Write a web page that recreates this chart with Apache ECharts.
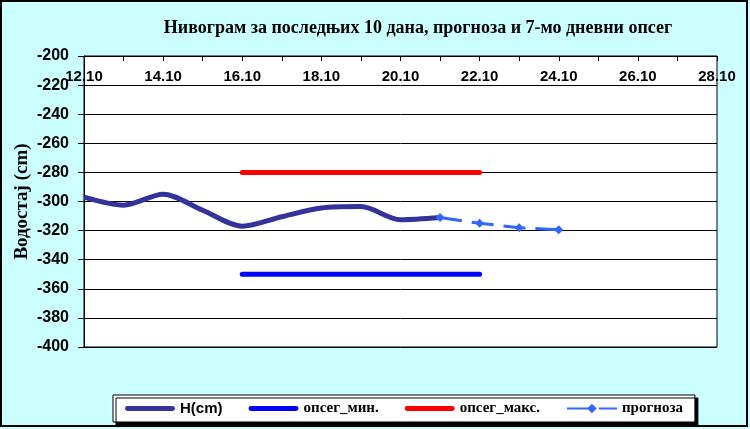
<!DOCTYPE html>
<html>
<head>
<meta charset="utf-8">
<script src="https://cdn.jsdelivr.net/npm/echarts@6/dist/echarts.min.js"></script>
<style>
html,body{margin:0;padding:0;background:#ccffff;}
#chart{width:750px;height:429px;}
</style>
</head>
<body>
<div id="chart"></div>
<script>
// Data
const titleText = 'Нивограм за последњих 10 дана, прогноза и 7-мо дневни опсег';
const yAxisName = 'Водостај (cm)';
const hDays = [12, 13, 14, 15, 16, 17, 18, 19, 20, 21];
const hValues = [-297, -302.5, -295, -306, -317, -310.5, -304.5, -303.5, -312.5, -311];
const forecastDays = [21, 22, 23, 24];
const forecastValues = [-311, -315, -318, -319.5];
const rangeDays = [16, 22];
const rangeMin = [-350, -350];
const rangeMax = [-280, -280];
const xMin = 12, xMax = 28, xStep = 2;
const yMin = -400, yMax = -200, yStep = 20;
const seriesNames = ['H(cm)', 'опсег_мин.', 'опсег_макс.', 'прогноза'];

const zip = (xs, ys) => xs.map((x, i) => [x, ys[i]]);
const serifText = {fontFamily: '"Liberation Serif", serif', fontWeight: 'bold', fontSize: 15, color: '#000'};
const barIcon = 'path://M2,0 H48 A2.5,2.5 0 0 1 48,5 H2 A2.5,2.5 0 0 1 2,0 Z';

const chart = echarts.init(document.getElementById('chart'), null, {renderer: 'canvas'});
chart.setOption({
  backgroundColor: '#ccffff',
  animation: false,
  graphic: [
    {type: 'rect', shape: {x: 1, y: 1, width: 746, height: 425}, style: {fill: 'none', stroke: '#000', lineWidth: 2}, z: 100},
    {type: 'text', x: 418, y: 19, style: {text: titleText, font: 'bold 18px "Liberation Serif", serif', fill: '#000', textAlign: 'center'}}
  ],
  grid: {left: 84, right: 33, top: 56, bottom: 82, show: true, backgroundColor: '#fff', borderColor: '#000', borderWidth: 1},
  xAxis: {
    type: 'value', position: 'top', min: xMin, max: xMax, interval: xStep,
    axisLine: {show: true, lineStyle: {color: '#000'}},
    axisTick: {show: true, inside: true, length: 5, lineStyle: {color: '#000'}},
    minorTick: {show: true, splitNumber: 2, length: 5, lineStyle: {color: '#000'}},
    splitLine: {show: false},
    axisLabel: {inside: true, margin: 13, color: '#000', fontFamily: '"Liberation Sans", Arial', fontWeight: 'bold', fontSize: 15,
      formatter: v => v + '.10'}
  },
  yAxis: {
    type: 'value', min: yMin, max: yMax, interval: yStep,
    name: yAxisName, nameLocation: 'middle', nameGap: 52, nameMoveOverlap: false,
    nameTextStyle: {color: '#000', fontFamily: '"Liberation Serif", serif', fontWeight: 'bold', fontSize: 19},
    axisLine: {show: true, lineStyle: {color: '#000'}},
    axisTick: {show: true, length: 6, lineStyle: {color: '#000'}},
    splitLine: {show: true, lineStyle: {color: '#000', width: 1}},
    axisLabel: {margin: 15, color: '#000', fontFamily: '"Liberation Sans", Arial', fontWeight: 'bold', fontSize: 16}
  },
  legend: {
    left: 113, top: 395, orient: 'horizontal',
    backgroundColor: '#fff', borderColor: '#000', borderWidth: 1,
    shadowColor: '#000', shadowOffsetX: 3, shadowOffsetY: 3, shadowBlur: 0,
    padding: [6, 12, 6, 12], itemWidth: 50, itemHeight: 12, itemGap: 26, symbolKeepAspect: true,
    data: [
      {name: seriesNames[0], icon: barIcon, textStyle: {fontFamily: '"Liberation Sans", Arial', fontWeight: 'bold', fontSize: 15, color: '#000'}},
      {name: seriesNames[1], icon: barIcon, textStyle: serifText},
      {name: seriesNames[2], icon: barIcon, textStyle: serifText},
      {name: seriesNames[3], textStyle: serifText}
    ]
  },
  series: [
    {name: seriesNames[0], type: 'line', data: zip(hDays, hValues), smooth: 0.3, showSymbol: false, symbol: 'none',
      lineStyle: {color: '#333399', width: 5}, itemStyle: {color: '#333399'}, z: 3},
    {name: seriesNames[1], type: 'line', data: zip(rangeDays, rangeMin), showSymbol: false, symbol: 'none',
      lineStyle: {color: '#0000ff', width: 5, cap: 'round'}, itemStyle: {color: '#0000ff'}},
    {name: seriesNames[2], type: 'line', data: zip(rangeDays, rangeMax), showSymbol: false, symbol: 'none',
      lineStyle: {color: '#ff0000', width: 5, cap: 'round'}, itemStyle: {color: '#ff0000'}},
    {name: seriesNames[3], type: 'line', data: zip(forecastDays, forecastValues), symbol: 'diamond', symbolSize: 9, showSymbol: true,
      lineStyle: {color: '#3366ff', width: 3, type: [22, 10]}, itemStyle: {color: '#3366ff'}, z: 4}
  ]
});
</script>
</body>
</html>
